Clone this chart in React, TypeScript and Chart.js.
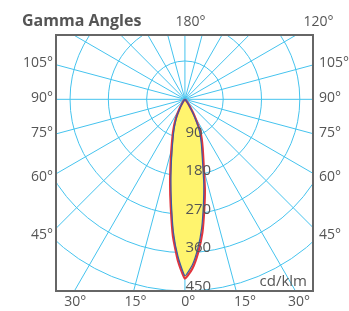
import React, { useEffect, useRef } from "react";
import { Chart, registerables } from "chart.js";

Chart.register(...registerables);

// Gamma angles (deg, negative = left of nadir) and intensities in cd/klm
const gammaAngles = [-90, -45, -35, -30, -25, -20, -15, -12.5, -10, -7.5, -5, -2.5, 0, 2.5, 5, 7.5, 10, 12.5, 15, 20, 25, 30, 35, 45, 90];
const redIntensity = [0, 2, 10, 25, 52, 82, 123, 156, 201, 255, 323, 379, 421, 398, 360, 315, 262, 217, 173, 122, 88, 45, 18, 3, 0];
const blueIntensity = [0, 1, 8, 21, 46, 75, 114, 146, 190, 244, 312, 370, 414, 390, 350, 303, 250, 205, 162, 113, 79, 38, 14, 2, 0];

// Polar grid
const ringValues = [90, 180, 270, 360, 450];
const ringLabels = ["90", "180", "270", "360", "450"];
const spokeAngles = [0, 15, 30, 45, 60, 75, 90, 105, 120, 135, 150, 165, 180, 195, 210, 225, 240, 255, 270, 285, 300, 315, 330, 345];

// Angle tick labels (positions in cd/klm units along the frame)
const bottomTickValues = [-258, -116, 8, 141, 268];
const bottomTickLabels = ["30°", "15°", "0°", "15°", "30°"];
const sideTickValues = [86, 4, -79, -182, -318];
const sideTickLabels = ["105°", "90°", "75°", "60°", "45°"];
const topTickValues = [0, 301];
const topTickLabels = ["180°", "120°"];

const titleText = "Gamma Angles";
const unitText = "cd/klm";

const FONT = "'Open Sans', 'Noto Sans', sans-serif";
const TEXT = "#555555";
const GRID = "#45c3ee";

function toXY(angles: number[], vals: number[]) {
  return angles.map((a, i) => {
    const r = (a * Math.PI) / 180;
    return { x: vals[i] * Math.sin(r), y: -vals[i] * Math.cos(r) };
  });
}

const polarGrid = {
  id: "polarGrid",
  beforeDatasetsDraw(chart: any) {
    const { ctx, chartArea, scales } = chart;
    const xs = scales.x, ys = scales.y;
    const cx = xs.getPixelForValue(0), cy = ys.getPixelForValue(0);
    const kx = (xs.getPixelForValue(100) - cx) / 100;
    const ky = (cy - ys.getPixelForValue(100)) / 100;
    ctx.save();
    ctx.beginPath();
    ctx.rect(chartArea.left, chartArea.top, chartArea.right - chartArea.left, chartArea.bottom - chartArea.top);
    ctx.clip();
    ctx.strokeStyle = GRID;
    ctx.lineWidth = 1;
    ringValues.forEach((v) => {
      ctx.beginPath();
      ctx.ellipse(cx, cy, v * kx, v * ky, 0, 0, Math.PI * 2);
      ctx.stroke();
    });
    spokeAngles.forEach((a) => {
      const r = (a * Math.PI) / 180;
      const R = 1000;
      ctx.beginPath();
      ctx.moveTo(cx, cy);
      ctx.lineTo(cx + R * kx * Math.sin(r), cy + R * ky * Math.cos(r));
      ctx.stroke();
    });
    ctx.restore();
  },
  afterDatasetsDraw(chart: any) {
    const { ctx, chartArea, scales } = chart;
    const xs = scales.x, ys = scales.y;
    const cx = xs.getPixelForValue(0);
    ctx.save();
    ctx.fillStyle = TEXT;
    ctx.font = `15px ${FONT}`;
    ctx.textAlign = "left";
    ctx.textBaseline = "alphabetic";
    ringValues.forEach((v, i) => {
      ctx.fillText(ringLabels[i], cx + 0.5, ys.getPixelForValue(-v) - 0.5);
    });
    ctx.textAlign = "right";
    ctx.fillText(unitText, chartArea.right - 6, chartArea.bottom - 5);
    // frame
    ctx.strokeStyle = "#666666";
    ctx.lineWidth = 2;
    ctx.strokeRect(chartArea.left, chartArea.top, chartArea.right - chartArea.left, chartArea.bottom - chartArea.top);
    // title
    ctx.textAlign = "left";
    ctx.font = `bold 16px ${FONT}`;
    ctx.fillText(titleText, 22, 26);
    ctx.restore();
  },
};

function fixedTicks(values: number[]) {
  return (axis: any) => {
    axis.ticks = values.map((v) => ({ value: v }));
  };
}

export default function App() {
  const ref = useRef<HTMLCanvasElement | null>(null);
  useEffect(() => {
    if (!ref.current) return;
    const tickFont = { family: FONT, size: 14 };
    const chart = new Chart(ref.current, {
      type: "scatter",
      data: {
        datasets: [
          {
            data: toXY(gammaAngles, blueIntensity),
            showLine: true,
            borderColor: "#3a5aa8",
            borderWidth: 1.2,
            pointRadius: 0,
            tension: 0.15,
            fill: false,
          },
          {
            data: toXY(gammaAngles, redIntensity),
            showLine: true,
            borderColor: "#e2353d",
            borderWidth: 2.2,
            backgroundColor: "#fff46e",
            pointRadius: 0,
            tension: 0.15,
            fill: "shape",
          },
        ],
      },
      options: {
        animation: false,
        responsive: false,
        devicePixelRatio: 1,
        layout: { padding: 0 },
        plugins: { legend: { display: false }, tooltip: { enabled: false }, title: { display: false } },
        scales: {
          x: {
            type: "linear",
            position: "bottom",
            min: -303,
            max: 301,
            grid: { display: false, drawTicks: false },
            border: { display: false },
            afterBuildTicks: fixedTicks(bottomTickValues),
            afterFit: (s: any) => { s.height = 20; },
            ticks: { autoSkip: false, maxRotation: 0, padding: 3, font: tickFont, color: TEXT, callback: (_v: any, i: number) => bottomTickLabels[i] },
          },
          xTop: {
            type: "linear",
            position: "top",
            min: -303,
            max: 301,
            grid: { display: false, drawTicks: false },
            border: { display: false },
            afterBuildTicks: fixedTicks(topTickValues),
            afterFit: (s: any) => { s.height = 35; },
            ticks: { autoSkip: false, maxRotation: 0, padding: 5, labelOffset: 5.5, font: tickFont, color: TEXT, callback: (_v: any, i: number) => topTickLabels[i] },
          },
          y: {
            type: "linear",
            position: "left",
            min: -450,
            max: 151,
            grid: { display: false, drawTicks: false },
            border: { display: false },
            afterBuildTicks: fixedTicks(sideTickValues),
            afterFit: (s: any) => { s.width = 56; },
            ticks: { autoSkip: false, padding: 3, font: tickFont, color: TEXT, callback: (_v: any, i: number) => sideTickLabels[i] },
          },
          yRight: {
            type: "linear",
            position: "right",
            min: -450,
            max: 151,
            grid: { display: false, drawTicks: false },
            border: { display: false },
            afterBuildTicks: fixedTicks(sideTickValues),
            afterFit: (s: any) => { s.width = 36; },
            ticks: { autoSkip: false, padding: 6, font: tickFont, color: TEXT, callback: (_v: any, i: number) => sideTickLabels[i] },
          },
        },
      },
      plugins: [polarGrid],
    } as any);
    return () => chart.destroy();
  }, []);
  return (
    <div style={{ position: "fixed", left: 0, top: 0, width: 349, height: 311, background: "#fff" }}>
      <canvas ref={ref} width={349} height={311} style={{ display: "block" }} />
    </div>
  );
}
